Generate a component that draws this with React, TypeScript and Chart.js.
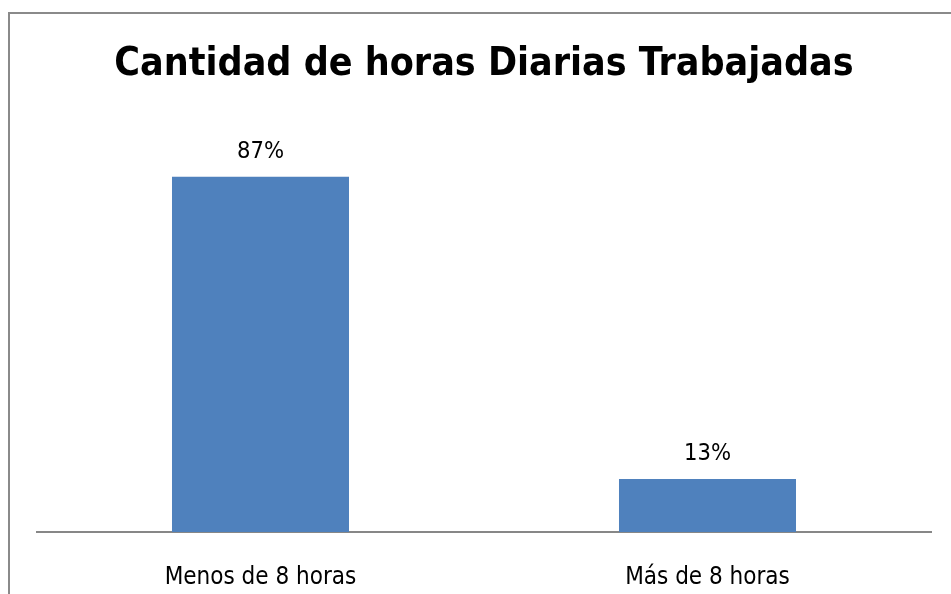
import React, { useEffect, useRef } from "react";
import { Chart, registerables } from "chart.js";

Chart.register(...registerables);

const TITLE = "Cantidad de horas Diarias Trabajadas";
const categories = ["Menos de 8 horas", "Más de 8 horas"];
const percentages = [87, 13];
const valueLabels = ["87%", "13%"];
const yMax = 100;

const FONT = "'Liberation Sans Narrow', 'DejaVu Sans Condensed', 'Liberation Sans', sans-serif";

const valueLabelPlugin = {
  id: "valueLabels",
  afterDatasetsDraw(chart: any) {
    const ctx = chart.ctx;
    const meta = chart.getDatasetMeta(0);
    ctx.save();
    ctx.font = `23.5px ${FONT}`;
    ctx.fillStyle = "#000000";
    ctx.textAlign = "center";
    ctx.textBaseline = "middle";
    meta.data.forEach((bar: any, i: number) => {
      ctx.fillText(valueLabels[i], bar.x, bar.y - 25);
    });
    ctx.restore();
  },
};

export default function App() {
  const ref = useRef<HTMLCanvasElement | null>(null);
  useEffect(() => {
    if (!ref.current) return;
    const chart = new Chart(ref.current, {
      type: "bar",
      data: {
        labels: categories,
        datasets: [
          {
            data: percentages,
            backgroundColor: "#4F81BD",
            borderWidth: 0,
            barPercentage: 0.396,
            categoryPercentage: 1,
          },
        ],
      },
      options: {
        animation: false,
        responsive: false,
        maintainAspectRatio: false,
        layout: { padding: { left: 37, right: 20, top: 0, bottom: -30 } },
        plugins: {
          legend: { display: false },
          tooltip: { enabled: false },
          title: {
            display: true,
            text: TITLE,
            color: "#000000",
            font: { family: FONT, size: 39, weight: "bold", lineHeight: 1.2 },
            padding: { top: 41, bottom: 36 },
          },
        },
        scales: {
          x: {
            grid: { display: false, drawTicks: false },
            border: { display: true, color: "#878787", width: 2 },
            ticks: {
              color: "#000000",
              font: { family: FONT, size: 24, lineHeight: 1 },
              padding: 34,
            },
          },
          y: {
            display: false,
            min: 0,
            max: yMax,
          },
        },
      },
      plugins: [valueLabelPlugin],
    });
    return () => chart.destroy();
  }, []);
  return (
    <div style={{ position: "fixed", left: 0, top: 0, width: 951, height: 594, background: "#ffffff" }}>
      <div
        style={{
          position: "absolute",
          left: 8,
          top: 12,
          right: -10,
          bottom: -10,
          borderLeft: "2px solid #8a8a8a",
          borderTop: "2px solid #8a8a8a",
        }}
      />
      <canvas ref={ref} width={951} height={594} style={{ position: "absolute", left: 0, top: 0 }} />
    </div>
  );
}
